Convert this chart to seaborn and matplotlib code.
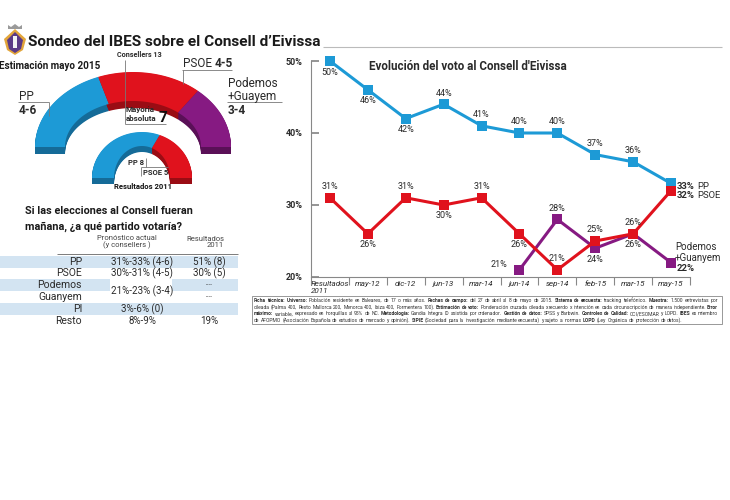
import numpy as np
import pandas as pd
import seaborn as sns
import matplotlib
matplotlib.use('Agg')
import matplotlib.pyplot as plt
from matplotlib import font_manager

# ---- datos ----
periodos = ['Resultados\n2011', 'may-12', 'dic-12', 'jun-13', 'mar-14',
            'jun-14', 'sep-14', 'feb-15', 'mar-15', 'may-15']
pp = [50, 46, 42, 44, 41, 40, 40, 37, 36, 33]
psoe = [31, 26, 31, 30, 31, 26, 21, 25, 26, 32]
podemos = [None, None, None, None, None, 21, 28, 24, 26, 22]

partidos_2015 = ['PP', 'PSOE', 'Podemos']
min_2015 = [4, 4, 3]
max_2015 = [6, 5, 4]
partidos_2011 = ['PP', 'PSOE']
escanos_2011 = [8, 5]
consellers = 13
mayoria = 7

tabla_partidos = ['PP', 'PSOE', 'Podemos', 'Guanyem', 'PI', 'Resto']
tabla_pronostico = ['31%-33% (4-6)', '30%-31% (4-5)', '21%-23% (3-4)', '', '3%-6% (0)', '8%-9%']
tabla_2011 = ['51% (8)', '30% (5)', '----', '----', '', '19%']

footer = [
    "**Ficha técnica:** **Universo:** Población residente en Baleares, de 17 o más años. **Fechas de campo:** del 27 de abril al 8 de mayo de 2015. **Sistema de encuesta:** tracking telefónico. **Muestra:** 1.500 entrevistas por",
    "cileada (Palma 400, Resto Mallorca 200, Menorca 400, Ibiza 400, Formentera 100). **Estimación de voto:** Ponderación cruzada cileada x recuerdo x intención en cada circunscripción de manera independiente. **Error**",
    "**máximo:** variable, expresado en horquillas al 95% de NC. **Metodología:** Gandia Integra ID asistida por ordenador. **Gestión de datos:** SPSS y Barbwin. **Controles de Calidad:** CCI/ESOMAR y LOPD. **IBES** es miembro",
    "de AFOPMO (Asociación Española de estudios de mercado y opinión). **SIPIE** (Sociedad para la investigación mediante encuesta) y sujeto a normas **LOPD** (Ley Orgánica de protección de datos).",
]

# ---- estilo ----
sns.set_theme(style='white')
names = {f.name for f in font_manager.fontManager.ttflist}
NARROW = 'Liberation Sans Narrow' if 'Liberation Sans Narrow' in names else 'Roboto'
BASE = 'Roboto'
plt.rcParams['font.family'] = [BASE, 'DejaVu Sans']
NF = [NARROW, 'DejaVu Sans']

c_pp, c_psoe, c_pod = '#1d9ad6', '#e0121d', '#861a82'
d_pp, d_psoe, d_pod = '#156b98', '#9a0c14', '#5a1057'
txt = '#2a2a2a'

fig = plt.figure(figsize=(7.3, 5), dpi=100)
R = fig.canvas.get_renderer()

# grafico de lineas
ax = fig.add_axes([311 / 730, 1 - 277 / 500, 379 / 730, 216 / 500])
n = len(periodos)
df = pd.DataFrame({
    'x': list(range(n)) * 3,
    'voto': pp + psoe + podemos,
    'partido': ['PP'] * n + ['PSOE'] * n + ['Podemos+Guanyem'] * n,
}).dropna()
sns.lineplot(data=df, x='x', y='voto', hue='partido',
             hue_order=['PP', 'Podemos+Guanyem', 'PSOE'],
             palette={'PP': c_pp, 'PSOE': c_psoe, 'Podemos+Guanyem': c_pod},
             marker='s', markersize=7, markeredgewidth=0, linewidth=2.2,
             legend=False, ax=ax)
for l in ax.lines:
    l.set_clip_on(False)

ax.set_xlim(-0.5, n - 0.5)
ax.set_ylim(20, 50)
ax.set_yticks([20, 30, 40, 50])
ax.set_yticklabels([f'{v}%' for v in [20, 30, 40, 50]], fontweight='bold', fontsize=6.5, color=txt)
ax.tick_params(axis='y', left=True, direction='in', length=6, color='#888', pad=6)
ax.set_xticks(range(n))
ax.set_xticklabels(periodos, fontstyle='italic', fontsize=5.8, color=txt)
ax.get_xticklabels()[0].set_multialignment('left')
ax.tick_params(axis='x', which='major', length=0, pad=3)
ax.set_xticks(np.arange(-0.5, n, 1), minor=True)
ax.tick_params(axis='x', which='minor', bottom=True, direction='out', length=6, color='#888', width=0.8)
for s in ['top', 'right']:
    ax.spines[s].set_visible(False)
for s in ['left', 'bottom']:
    ax.spines[s].set_color('#888')
    ax.spines[s].set_linewidth(0.8)
ax.set_xlabel('')
ax.set_ylabel('')

# capa superior en pixeles
ov = fig.add_axes([0, 0, 1, 1], facecolor='none')
ov.set_xlim(0, 730)
ov.set_ylim(500, 0)
ov.axis('off')


def width(t):
    return t.get_window_extent(renderer=R).width


def rich(x, y, text, size, family=None, color=txt, target=None, zorder=6):
    # texto con **negritas**, palabra a palabra (justificado si hay target)
    segs = text.split('**')
    toks = []
    for i, s in enumerate(segs):
        toks += [(w, 'bold' if i % 2 else 'normal') for w in s.split()]
    fam = family or [BASE, 'DejaVu Sans']
    arts = [ov.text(0, y, w, fontsize=size, fontweight=wt, family=fam, color=color,
                    ha='left', va='baseline', zorder=zorder) for w, wt in toks]
    ws = [width(a) for a in arts]
    space = 0.26 * size * 100 / 72
    if target and len(ws) > 1:
        space = (target - sum(ws)) / (len(ws) - 1)
    x0 = x
    for a, w in zip(arts, ws):
        a.set_x(x0)
        x0 += w + space
    return arts, sum(ws) + 0.26 * size * 100 / 72 * (len(ws) - 1)


def fit(t, w):
    t.set_fontsize(t.get_fontsize() * w / width(t))
    return t


def px(x, y):
    d = ax.transData.transform((x, y))
    return d[0], 500 - d[1]


def line(xs, ys, lw=0.6, color='#777'):
    ov.plot(xs, ys, color=color, lw=lw, zorder=5, solid_capstyle='butt')


# etiquetas del grafico
pos_pp = ['b', 'b', 'b', 'a', 'a', 'a', 'a', 'a', 'a', None]
pos_psoe = ['a', 'b', 'a', 'b', 'a', 'b', 'a', 'a', 'a', None]
pos_pod = [None] * 5 + ['l', 'a', 'b', 'b', None]
for serie, posiciones in [(pp, pos_pp), (psoe, pos_psoe), (podemos, pos_pod)]:
    for i, (v, p) in enumerate(zip(serie, posiciones)):
        if v is None or p is None:
            continue
        X, Y = px(i, v)
        dx, dy = {'a': (0, -11), 'b': (0, 11), 'l': (-21, -5)}[p]
        ov.text(X + dx, Y + dy, f'{v}%', fontsize=6.5, color=txt, ha='center', va='center', zorder=6)

X, Y = px(n - 1, pp[-1])
rich(X + 6, Y + 5.5, f'**{pp[-1]}%** PP', 6.8)
X, Y = px(n - 1, psoe[-1])
rich(X + 6, Y + 7, f'**{psoe[-1]}%** PSOE', 6.8)
X, Y = px(n - 1, podemos[-1])
rich(X + 6, Y + 8, f'**{podemos[-1]}%**', 6.8)
ov.text(X + 4, Y + 0.5, 'Podemos\n+Guanyem', fontsize=7, color=txt, ha='left', va='bottom',
        linespacing=1.15, zorder=6)

fit(ov.text(369, 70, "Evolución del voto al Consell d'Eivissa", fontsize=10, fontweight='bold',
            family=NF, color=txt, ha='left', va='baseline', zorder=6), 199)

# cabecera
fit(ov.text(28, 46, 'Sondeo del IBES sobre el Consell d’Eivissa', fontsize=13, fontweight='bold',
            family=NF, color='#1a1a1a', ha='left', va='baseline', zorder=6), 292)
line([323, 722], [47, 47], lw=0.8, color='#bbbbbb')

# escudo
ov.fill([15, 26, 23, 15, 7, 4], [29, 39, 50, 55, 50, 39], color='#e2a53a', lw=0, zorder=5)
ov.fill([15, 23, 21, 15, 9, 7], [32, 40, 49, 53, 49, 40], color='#5b3a86', lw=0, zorder=5)
ov.fill([13, 17, 17, 13], [36, 36, 48, 48], color='#f3f3f3', lw=0, zorder=5)
ov.fill([8, 22, 22, 19, 15, 11, 8], [29, 29, 25, 27, 24, 27, 25], color='#9a9a9a', lw=0, zorder=5)


# hemiciclos
def arco(cx, cy, rx, ry, rxi, ryi, a0, a1, color, dark, depth):
    tt = np.radians(np.linspace(a0, a1, 80))
    xs = np.r_[cx + rx * np.cos(tt), cx + rxi * np.cos(tt[::-1])]
    ys = np.r_[cy - ry * np.sin(tt), cy - ryi * np.sin(tt[::-1])]
    for d in np.linspace(depth, 0.5, 10):
        ov.fill(xs, ys + d, color=dark, lw=0, zorder=2)
    ov.fill(xs, ys, color=color, lw=0, zorder=3)


colores = [c_pp, c_psoe, c_pod]
oscuros = [d_pp, d_psoe, d_pod]
medios = [(a + b) / 2 for a, b in zip(min_2015, max_2015)]
a = 180.0
for m, c, d in zip(medios, colores, oscuros):
    b = a - m / sum(medios) * 180
    arco(133, 147, 98, 75, 68, 46, a, b, c, d, 7)
    a = b
a = 180.0
for m, c, d in zip(escanos_2011, colores, oscuros):
    b = a - m / sum(escanos_2011) * 180
    arco(142, 178, 50, 46, 28, 32, a, b, c, d, 6)
    a = b

fit(ov.text(-1, 69, 'Estimación mayo 2015', fontsize=8, fontweight='bold', family=NF,
            color='#1a1a1a', zorder=6), 101)
fit(ov.text(117, 57, f'Consellers {consellers}', fontsize=6, fontweight='bold', family=NF,
            color=txt, zorder=6), 45)
line([125, 125], [60, 124])
line([125, 166], [124, 124])
ov.text(126, 112, 'Mayoria', fontsize=5.8, fontweight='bold', family=NF, color=txt, zorder=6)
t = ov.text(126, 121, 'absoluta', fontsize=5.8, fontweight='bold', family=NF, color=txt, zorder=6)
ov.text(126 + width(t) + 2, 122, str(mayoria), fontsize=11, fontweight='bold', color='#111', zorder=6)

rich(183, 67, f'PSOE **{min_2015[1]}-{max_2015[1]}**', 8.5)
line([182, 232], [70, 70])
line([183, 183], [70, 84])
ov.text(228, 87, 'Podemos', fontsize=8.5, color=txt, zorder=6)
ov.text(228, 100, '+Guayem', fontsize=8.5, color=txt, zorder=6)
line([227, 282], [102, 102])
ov.text(228, 114, f'{min_2015[2]}-{max_2015[2]}', fontsize=8.5, fontweight='bold', color=txt, zorder=6)
ov.text(19, 100, 'PP', fontsize=8.5, color=txt, zorder=6)
line([18, 49], [102, 102])
line([49, 49], [102, 116])
ov.text(19, 114, f'{min_2015[0]}-{max_2015[0]}', fontsize=8.5, fontweight='bold', color=txt, zorder=6)

ov.text(128, 165, f'PP {escanos_2011[0]}', fontsize=5.5, family=NF, fontweight='bold', color=txt, zorder=6)
line([146, 146], [158, 167])
line([141, 168], [167, 167])
line([141, 141], [167, 176])
ov.text(143, 175, f'PSOE {escanos_2011[1]}', fontsize=5.5, family=NF, fontweight='bold', color=txt, zorder=6)
fit(ov.text(114, 189, 'Resultados 2011', fontsize=7, family=NF, fontweight='bold', color='#111',
            zorder=6), 58)

# tabla
t = fit(ov.text(25, 214, 'Si las elecciones al Consell fueran', fontsize=10, fontweight='bold',
                family=NF, color='#1a1a1a', zorder=6), 168)
ov.text(25, 230, 'mañana, ¿a qué partido votaría?', fontsize=t.get_fontsize(), fontweight='bold',
        family=NF, color='#1a1a1a', zorder=6)
ov.text(127, 247, 'Pronóstico actual\n(y consellers )', fontsize=5.5, color='#444', ha='center',
        va='baseline', linespacing=1.0, zorder=6)
ov.text(224, 247, 'Resultados\n2011', fontsize=5.5, color='#444', ha='right', va='baseline',
        linespacing=1.0, multialignment='right', zorder=6)
line([57, 238], [254, 254], lw=0.6, color='#666')

filas_y = [262, 273.5, 285, 297, 309, 321]
banda = '#d3e4f2'
for i in [0, 4]:
    ov.fill([0, 238, 238, 0], [filas_y[i] - 6, filas_y[i] - 6, filas_y[i] + 6, filas_y[i] + 6],
            color=banda, lw=0, zorder=1)
for x0, x1 in [(0, 110), (172, 238)]:
    ov.fill([x0, x1, x1, x0], [filas_y[2] - 6, filas_y[2] - 6, filas_y[2] + 6, filas_y[2] + 6],
            color=banda, lw=0, zorder=1)

for i, (p, v1, v2) in enumerate(zip(tabla_partidos, tabla_pronostico, tabla_2011)):
    y = filas_y[i]
    ov.text(82, y, p, fontsize=7.5, color=txt, ha='right', va='center', zorder=6)
    if v1:
        yy = (filas_y[i] + filas_y[i + 1]) / 2 if i + 1 < len(tabla_pronostico) and not tabla_pronostico[i + 1] else y
        ov.text(142, yy, v1, fontsize=7, color=txt, ha='center', va='center', zorder=6)
    if v2:
        ov.text(209, y, v2, fontsize=4.5 if v2.startswith('-') else 7, color=txt,
                ha='center', va='center', zorder=6)

# ficha tecnica
ov.fill([252, 722, 722, 252], [296, 296, 324, 324], facecolor='none', edgecolor='#888', lw=0.6, zorder=1)
nat = []
for ln in footer:
    arts, tot = rich(0, 0, ln, 4, family=NF)
    nat.append(tot)
    for ar in arts:
        ar.remove()
size = 4 * min(464 / w for w in nat)
for k, ln in enumerate(footer):
    rich(254, 302 + k * 6.6, ln, size, family=NF, color='#333', target=464 if k < 3 else None)

fig.savefig('out.png', dpi=100)
